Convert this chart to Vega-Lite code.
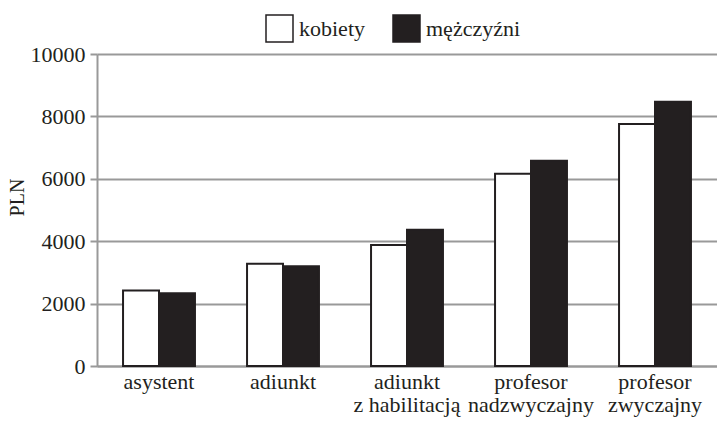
{
  "$schema": "https://vega.github.io/schema/vega-lite/v6.json",
  "width": 620,
  "height": 312,
  "autosize": "none",
  "padding": {"left": 97, "top": 54, "right": 0, "bottom": 55},
  "background": "white",
  "config": {
    "font": "Liberation Serif",
    "view": {"stroke": null}
  },
  "data": {
    "values": [
      {"stanowisko": "asystent", "plec": "kobiety", "placa": 2420},
      {"stanowisko": "asystent", "plec": "mężczyźni", "placa": 2330},
      {"stanowisko": "adiunkt", "plec": "kobiety", "placa": 3280},
      {"stanowisko": "adiunkt", "plec": "mężczyźni", "placa": 3200},
      {"stanowisko": "adiunkt\nz habilitacją", "plec": "kobiety", "placa": 3880},
      {"stanowisko": "adiunkt\nz habilitacją", "plec": "mężczyźni", "placa": 4370},
      {"stanowisko": "profesor\nnadzwyczajny", "plec": "kobiety", "placa": 6160},
      {"stanowisko": "profesor\nnadzwyczajny", "plec": "mężczyźni", "placa": 6580},
      {"stanowisko": "profesor\nzwyczajny", "plec": "kobiety", "placa": 7760},
      {"stanowisko": "profesor\nzwyczajny", "plec": "mężczyźni", "placa": 8470}
    ]
  },
  "mark": {"type": "bar", "stroke": "#231f20", "strokeWidth": 2},
  "encoding": {
    "x": {
      "field": "stanowisko",
      "type": "nominal",
      "sort": null,
      "scale": {"paddingInner": 0.42, "paddingOuter": 0.21},
      "axis": {
        "title": null,
        "labelAngle": 0,
        "labelExpr": "split(datum.label, '\\n')",
        "labelFontSize": 22,
        "labelColor": "#231f20",
        "labelLineHeight": 23,
        "labelPadding": 5,
        "ticks": false,
        "domainColor": "#999999",
        "domainWidth": 2
      }
    },
    "xOffset": {"field": "plec", "type": "nominal", "sort": ["kobiety", "mężczyźni"]},
    "y": {
      "field": "placa",
      "type": "quantitative",
      "scale": {"domain": [0, 10000]},
      "axis": {
        "title": "PLN",
        "titleFontSize": 20,
        "titleFontWeight": "normal",
        "titleColor": "#231f20",
        "titleX": -80,
        "titleY": 143,
        "titleBaseline": "middle",
        "values": [0, 2000, 4000, 6000, 8000, 10000],
        "format": "d",
        "labelFontSize": 22,
        "labelColor": "#231f20",
        "labelPadding": 5,
        "tickSize": 7,
        "tickColor": "#999999",
        "tickWidth": 2,
        "domainColor": "#999999",
        "domainWidth": 2,
        "gridColor": "#999999",
        "gridWidth": 2
      }
    },
    "fill": {
      "field": "plec",
      "type": "nominal",
      "sort": ["kobiety", "mężczyźni"],
      "scale": {"range": ["#ffffff", "#231f20"]},
      "legend": {
        "title": null,
        "orient": "none",
        "legendX": 168,
        "legendY": -40,
        "direction": "horizontal",
        "symbolType": "square",
        "symbolSize": 729,
        "symbolStrokeColor": "#231f20",
        "symbolStrokeWidth": 1.5,
        "labelFontSize": 22,
        "labelColor": "#231f20",
        "labelOffset": 5,
        "columnPadding": 25
      }
    }
  }
}
